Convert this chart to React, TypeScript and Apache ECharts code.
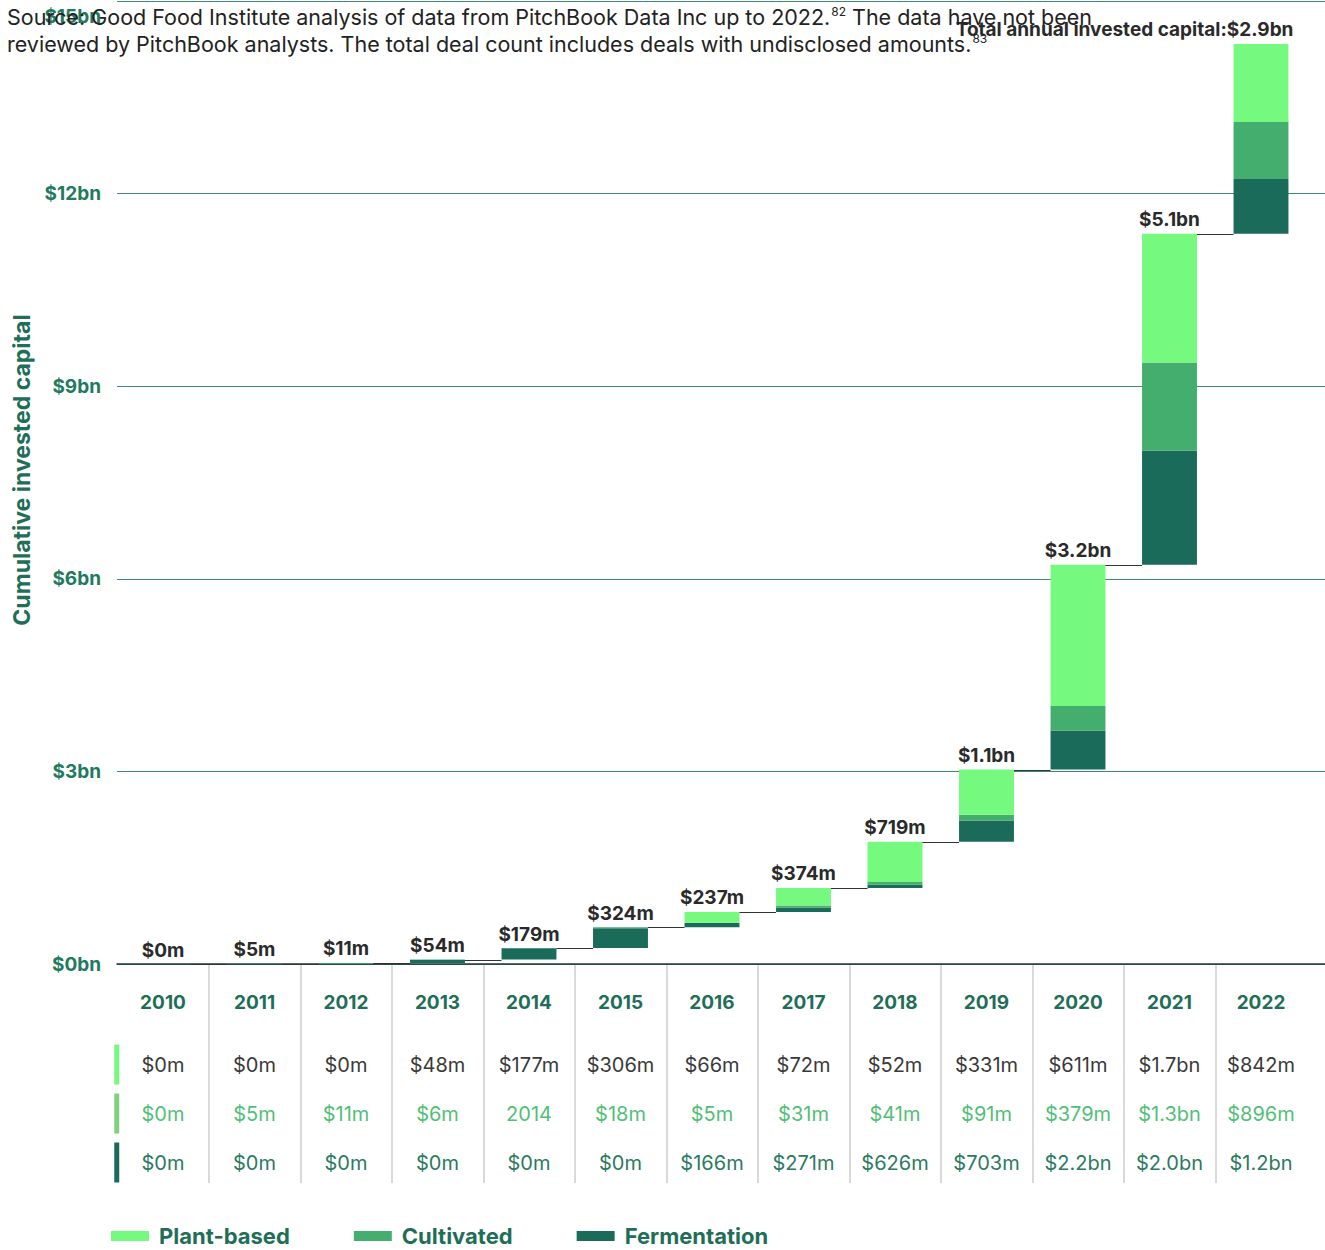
import React, { useEffect, useRef } from "react";
import * as echarts from "echarts";

// ---------- data ($m) ----------
const years = ["2010", "2011", "2012", "2013", "2014", "2015", "2016", "2017", "2018", "2019", "2020", "2021", "2022"];
// segment heights (bottom / middle / top of each floating bar)
const fermentationValues = [0, 0, 0, 48, 177, 306, 66, 72, 52, 331, 611, 1780, 856];
const cultivatedValues = [0, 5, 11, 6, 2, 18, 5, 31, 41, 91, 379, 1370, 888];
const plantBasedValues = [0, 0, 0, 0, 0, 0, 166, 271, 626, 703, 2200, 2005, 1215];
const totalLabels = ["$0m", "$5m", "$11m", "$54m", "$179m", "$324m", "$237m", "$374m", "$719m", "$1.1bn", "$3.2bn", "$5.1bn", "Total annual invested capital:$2.9bn"];
// table rows under the axis
const tableRow1 = ["$0m", "$0m", "$0m", "$48m", "$177m", "$306m", "$66m", "$72m", "$52m", "$331m", "$611m", "$1.7bn", "$842m"];
const tableRow2 = ["$0m", "$5m", "$11m", "$6m", "2014", "$18m", "$5m", "$31m", "$41m", "$91m", "$379m", "$1.3bn", "$896m"];
const tableRow3 = ["$0m", "$0m", "$0m", "$0m", "$0m", "$0m", "$166m", "$271m", "$626m", "$703m", "$2.2bn", "$2.0bn", "$1.2bn"];
const yMax = 15000;
const yInterval = 3000;

const LIGHT = "#76F97F";
const MEDIUM = "#43AE6E";
const DARK = "#1A6B5A";
const MARKER_MEDIUM = "#80D07F";
const FONT = "Inter, 'Noto Sans', sans-serif";

const sourceText =
  "{t|Source: Good Food Institute analysis of data from PitchBook Data Inc up to 2022.}{s|82}{t| The data have not been}\n" +
  "{t|reviewed by PitchBook analysts. The total deal count includes deals with undisclosed amounts.}{s|83}";

export default function App() {
  const ref = useRef<HTMLDivElement>(null);

  useEffect(() => {
    if (!ref.current) return;
    const chart = echarts.init(ref.current, undefined, { renderer: "svg" });

    const n = years.length;
    const totals = years.map((_, i) => fermentationValues[i] + cultivatedValues[i] + plantBasedValues[i]);
    const bases: number[] = [];
    let acc = 0;
    for (let i = 0; i < n; i++) {
      bases.push(acc);
      acc += totals[i];
    }
    const tops = bases.map((b, i) => b + totals[i]);

    const rows = [tableRow1, tableRow2, tableRow3];
    const rowColors = ["#3a3a3a", "#52BF78", "#2B7A62"];
    const markerColors = [LIGHT, MARKER_MEDIUM, DARK];
    const tableData: number[][] = [];
    rows.forEach((_, r) => years.forEach((__, c) => tableData.push([c, r])));

    const gridLeft = 117.25;
    const gridWidth = 1189.5;

    const option: any = {
      animation: false,
      backgroundColor: "#ffffff",
      textStyle: { fontFamily: FONT },
      grid: [
        { left: 117, right: 0, top: 1, bottom: 286 },
        { left: gridLeft, width: gridWidth, top: 1, bottom: 286 },
        { left: gridLeft, width: gridWidth, top: 965, height: 218 },
        { left: gridLeft, width: gridWidth, top: 1040, height: 147 },
      ],
      xAxis: [
        {
          gridIndex: 0,
          type: "category",
          data: ["bg"],
          axisLine: { show: true, lineStyle: { color: "#1d3a32", width: 1.5 } },
          axisTick: { show: false },
          axisLabel: { show: false },
          splitLine: { show: false },
        },
        {
          gridIndex: 1,
          type: "category",
          data: years,
          axisLine: { show: false },
          axisTick: { show: false },
          axisLabel: {
            show: true,
            margin: 29,
            fontSize: 19,
            fontWeight: "bold",
            color: "#1F6E57",
            fontFamily: FONT,
          },
        },
        {
          gridIndex: 2,
          type: "category",
          data: years,
          axisLine: { show: false },
          axisTick: { show: false },
          axisLabel: { show: false },
          splitLine: {
            show: true,
            showMinLine: false,
            showMaxLine: false,
            lineStyle: { color: "#cccccc", width: 1.5 },
          },
        },
        {
          gridIndex: 3,
          type: "category",
          data: years,
          show: false,
        },
      ],
      yAxis: [
        {
          gridIndex: 0,
          type: "value",
          min: 0,
          max: yMax,
          interval: yInterval,
          axisLine: { show: false },
          axisTick: { show: false },
          splitLine: { show: true, lineStyle: { color: "#3E8A73", width: 1 } },
          axisLabel: {
            show: true,
            margin: 16,
            fontSize: 19,
            fontWeight: "bold",
            color: "#1F7A5E",
            fontFamily: FONT,
            verticalAlignMaxLabel: "top",
            formatter: (v: number) => (v === yMax ? `{top|$${v / 1000}bn}` : `$${v / 1000}bn`),
            rich: {
              top: {
                fontSize: 19,
                fontWeight: "bold",
                color: "#1F7A5E",
                fontFamily: FONT,
                padding: [6, 0, 0, 0],
              },
            },
          },
        },
        {
          gridIndex: 1,
          type: "value",
          min: 0,
          max: yMax,
          interval: yInterval,
          show: false,
          splitLine: { show: false },
        },
        { gridIndex: 2, type: "value", min: 0, max: 1, show: false, splitLine: { show: false } },
        {
          gridIndex: 3,
          type: "category",
          data: ["r1", "r2", "r3"],
          inverse: true,
          show: false,
        },
      ],
      legend: {
        data: ["Plant-based", "Cultivated", "Fermentation"],
        left: 106,
        top: 1220,
        icon: "rect",
        itemWidth: 38,
        itemHeight: 10,
        itemGap: 64,
        selectedMode: false,
        textStyle: {
          fontSize: 22,
          fontWeight: "bold",
          color: "#1F6E57",
          fontFamily: FONT,
          padding: [0, 0, 0, 5],
        },
      },
      graphic: [
        {
          type: "text",
          left: 7,
          top: 5,
          z: 10,
          style: {
            text: sourceText,
            rich: {
              t: { fontSize: 21.5, fontFamily: FONT, fill: "#222222", lineHeight: 27 },
              s: { fontSize: 12, fontFamily: FONT, fill: "#222222", lineHeight: 27, padding: [0, 0, 12, 1] },
            },
          },
        },
        {
          type: "text",
          x: 22,
          y: 470,
          rotation: Math.PI / 2,
          style: {
            text: "Cumulative invested capital",
            align: "center",
            verticalAlign: "middle",
            fontSize: 23,
            fontWeight: "bold",
            fontFamily: FONT,
            fill: "#1F6E57",
          },
        },
      ],
      series: [
        {
          name: "_base",
          type: "bar",
          xAxisIndex: 1,
          yAxisIndex: 1,
          stack: "total",
          barWidth: "60%",
          silent: true,
          itemStyle: { color: "rgba(0,0,0,0)" },
          data: bases,
        },
        {
          name: "Fermentation",
          type: "bar",
          xAxisIndex: 1,
          yAxisIndex: 1,
          stack: "total",
          barWidth: "60%",
          itemStyle: { color: DARK },
          data: fermentationValues,
        },
        {
          name: "Cultivated",
          type: "bar",
          xAxisIndex: 1,
          yAxisIndex: 1,
          stack: "total",
          barWidth: "60%",
          itemStyle: { color: MEDIUM },
          data: cultivatedValues,
        },
        {
          name: "Plant-based",
          type: "bar",
          xAxisIndex: 1,
          yAxisIndex: 1,
          stack: "total",
          barWidth: "60%",
          itemStyle: { color: LIGHT },
          data: plantBasedValues,
        },
        {
          name: "_totals",
          type: "custom",
          xAxisIndex: 1,
          yAxisIndex: 1,
          z: 5,
          silent: true,
          data: tops.map((t, i) => [i, t]),
          renderItem: (params: any, api: any) => {
            const i = api.value(0);
            const top = api.value(1);
            const p = api.coord([i, top]);
            const band = api.size([1, 0])[0];
            const half = band * 0.3;
            const last = i === n - 1;
            const children: any[] = [];
            if (!last) {
              const q = api.coord([i + 1, top]);
              const y = Math.round(p[1]) + 0.5;
              children.push({
                type: "line",
                shape: { x1: p[0] + half, y1: y, x2: q[0] - half, y2: y },
                style: { stroke: "#333333", lineWidth: 1 },
              });
            }
            children.push({
              type: "text",
              x: last ? p[0] + half + 5 : p[0],
              y: p[1] - 14,
              style: {
                text: totalLabels[i],
                align: last ? "right" : "center",
                verticalAlign: "middle",
                fontSize: 19,
                fontWeight: "bold",
                fontFamily: FONT,
                fill: "#2a2a2a",
              },
            });
            return { type: "group", children };
          },
        },
        {
          name: "_table",
          type: "custom",
          xAxisIndex: 3,
          yAxisIndex: 3,
          silent: true,
          data: tableData,
          renderItem: (params: any, api: any) => {
            const c = api.value(0);
            const r = api.value(1);
            const p = api.coord([c, r]);
            return {
              type: "text",
              x: p[0],
              y: p[1],
              style: {
                text: rows[r][c],
                align: "center",
                verticalAlign: "middle",
                fontSize: 20,
                fontFamily: FONT,
                fill: rowColors[r],
              },
            };
          },
        },
        {
          name: "_markers",
          type: "custom",
          xAxisIndex: 3,
          yAxisIndex: 3,
          silent: true,
          data: [[0, 0], [0, 1], [0, 2]],
          renderItem: (params: any, api: any) => {
            const r = api.value(1);
            const p = api.coord([0, r]);
            const band = api.size([1, 0])[0];
            return {
              type: "rect",
              shape: { x: p[0] - band / 2 - 3, y: p[1] - 20, width: 5, height: 40 },
              style: { fill: markerColors[r] },
            };
          },
        },
      ],
    };

    chart.setOption(option);
    return () => chart.dispose();
  }, []);

  return (
    <div
      ref={ref}
      style={{ position: "absolute", left: 0, top: 0, width: 1325, height: 1250, background: "#fff" }}
    />
  );
}
